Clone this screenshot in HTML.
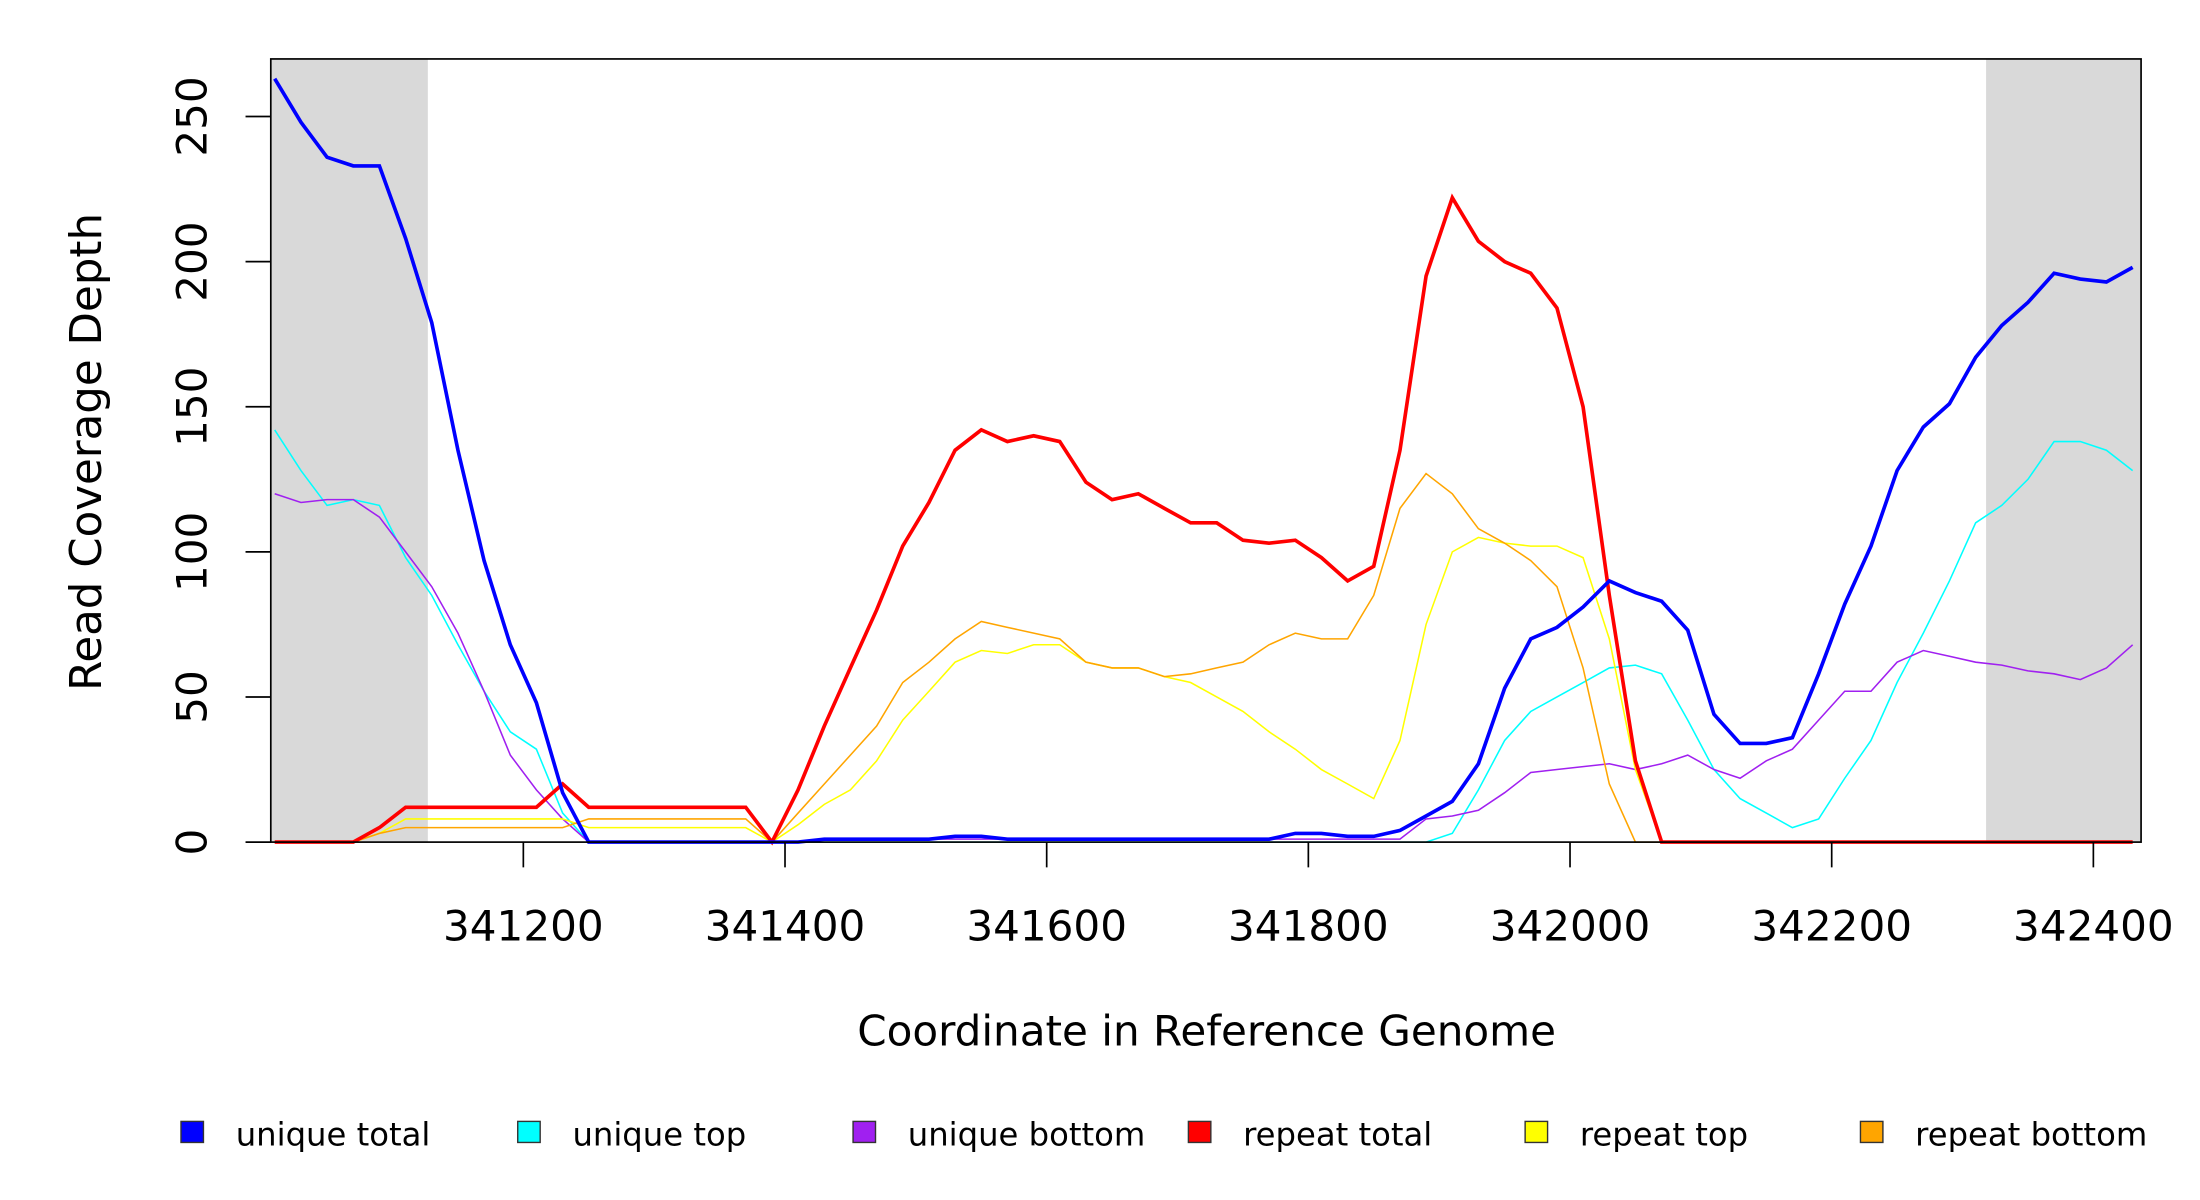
<!DOCTYPE html>
<html><head><meta charset="utf-8"><style>
html,body{margin:0;padding:0;background:#fff;width:2200px;height:1200px;overflow:hidden}
svg{display:block}
text{font-family:"DejaVu Sans","Liberation Sans",sans-serif;fill:#000}
</style></head><body>
<svg id="chart" width="2200" height="1200" viewBox="0 0 1568 855" preserveAspectRatio="none" xmlns="http://www.w3.org/2000/svg">
<g id="bg"></g>
<g id="series"></g>
<g id="axes"></g>
<text transform="translate(72,322) rotate(-90)" text-anchor="middle" font-size="31">Read Coverage Depth</text>
<text x="860" y="745" text-anchor="middle" font-size="30">Coordinate in Reference Genome</text>
<g id="legend"></g>
</svg>
<script>
const xStart = 341010, xStep = 20;
const yTicks = [0, 50, 100, 150, 200, 250];
const xTicks = [341200, 341400, 341600, 341800, 342000, 342200, 342400];
const shadedRegions = [[341007, 341127], [342318, 342436]];
const uniqueTotal = [263,248,236,233,233,208,179,135,97,68,48,17,0,0,0,0,0,0,0,0,0,1,1,1,1,1,2,2,1,1,1,1,1,1,1,1,1,1,1,3,3,2,2,4,9,14,27,53,70,74,81,90,86,83,73,44,34,34,36,58,82,102,128,143,151,167,178,186,196,194,193,198];
const uniqueTop = [142,128,116,118,116,98,85,68,52,38,32,10,0,0,0,0,0,0,0,0,0,0,0,0,0,0,0,0,0,0,0,0,0,0,0,0,0,0,0,0,0,0,0,0,0,3,18,35,45,50,55,60,61,58,42,25,15,10,5,8,22,35,55,72,90,110,116,125,138,138,135,128];
const uniqueBottom = [120,117,118,118,112,100,88,72,52,30,18,8,0,0,0,0,0,0,0,0,0,1,1,1,1,1,1,1,1,1,1,1,1,1,1,1,1,1,1,1,1,1,1,1,8,9,11,17,24,25,26,27,25,27,30,25,22,28,32,42,52,52,62,66,64,62,61,59,58,56,60,68];
const repeatTotal = [0,0,0,0,5,12,12,12,12,12,12,20,12,12,12,12,12,12,12,0,18,40,60,80,102,117,135,142,138,140,138,124,118,120,115,110,110,104,103,104,98,90,95,135,195,222,207,200,196,184,150,85,28,0,0,0,0,0,0,0,0,0,0,0,0,0,0,0,0,0,0,0];
const repeatTop = [0,0,0,0,3,8,8,8,8,8,8,8,5,5,5,5,5,5,5,0,6,13,18,28,42,52,62,66,65,68,68,62,60,60,57,55,50,45,38,32,25,20,15,35,75,100,105,103,102,102,98,70,25,0,0,0,0,0,0,0,0,0,0,0,0,0,0,0,0,0,0,0];
const repeatBottom = [0,0,0,0,3,5,5,5,5,5,5,5,8,8,8,8,8,8,8,0,10,20,30,40,55,62,70,76,74,72,70,62,60,60,57,58,60,62,68,72,70,70,85,115,127,120,108,103,97,88,60,20,0,0,0,0,0,0,0,0,0,0,0,0,0,0,0,0,0,0,0,0];
const seriesNames = ["unique total","unique top","unique bottom","repeat total","repeat top","repeat bottom"];
const seriesColors = ["#0000ff","#00ffff","#a020f0","#ff0000","#ffff00","#ffa500"];

const NS = "http://www.w3.org/2000/svg";
const L = 193, R = 1526, T = 42, B = 600;
function xs(g){ return 373 + (g - 341200) * 0.9325; }
function ys(v){ return 600 - v * 2.068; }
function mk(tag, attrs, parent){ const e = document.createElementNS(NS, tag); for (const k in attrs) e.setAttribute(k, attrs[k]); parent.appendChild(e); return e; }

const bg = document.getElementById('bg');
shadedRegions.forEach(function(r, i){
  const rect = mk('rect', {x: Math.max(L, xs(r[0])), y: T, width: Math.min(R, xs(r[1])) - Math.max(L, xs(r[0])), height: B - T, fill: '#d9d9d9'}, bg);
  
  
});

const sg = document.getElementById('series');
const allSeries = [uniqueTotal, uniqueTop, uniqueBottom, repeatTotal, repeatTop, repeatBottom];
const widths = [2.6, 1.1, 1.1, 2.6, 1.1, 1.1];
const drawOrder = [1, 2, 4, 5, 3, 0];
drawOrder.forEach(function(si){
  const vals = allSeries[si];
  let d = '';
  vals.forEach(function(v, i){ d += (i ? 'L' : 'M') + xs(xStart + i * xStep).toFixed(1) + ',' + ys(v).toFixed(1); });
  const p = mk('path', {d: d, fill: 'none', stroke: seriesColors[si], 'stroke-width': widths[si], 'stroke-linejoin': 'miter'}, sg);
  
  
});

const ax = document.getElementById('axes');
const box = mk('rect', {x: L, y: T, width: R - L, height: B - T, fill: 'none', stroke: '#000', 'stroke-width': 1.2}, ax);


yTicks.forEach(function(t){
  const y = ys(t);
  const ln = mk('line', {x1: 175, x2: L, y1: y, y2: y, stroke: '#000', 'stroke-width': 1.2}, ax);
  
  
  const tx = mk('text', {transform: 'translate(147,' + y + ') rotate(-90)', 'text-anchor': 'middle', 'font-size': 30}, ax);
  tx.textContent = t;
  
  
});
xTicks.forEach(function(t){
  const x = xs(t);
  const ln = mk('line', {x1: x, x2: x, y1: B, y2: 618, stroke: '#000', 'stroke-width': 1.2}, ax);
  
  
  const tx = mk('text', {x: x, y: 670, 'text-anchor': 'middle', 'font-size': 30}, ax);
  tx.textContent = t;
  
  
});

const lg = document.getElementById('legend');
const legendX = [129, 369, 608, 847, 1087, 1326];
seriesNames.forEach(function(n, i){
  const g = mk('g', {}, lg);
  
  
  mk('rect', {x: legendX[i], y: 799, width: 16, height: 15, fill: seriesColors[i], stroke: '#333', 'stroke-width': 1}, g);
  const t = mk('text', {x: legendX[i] + 39, y: 816, 'font-size': 23}, g);
  t.textContent = n;
});
</script>
</body></html>
